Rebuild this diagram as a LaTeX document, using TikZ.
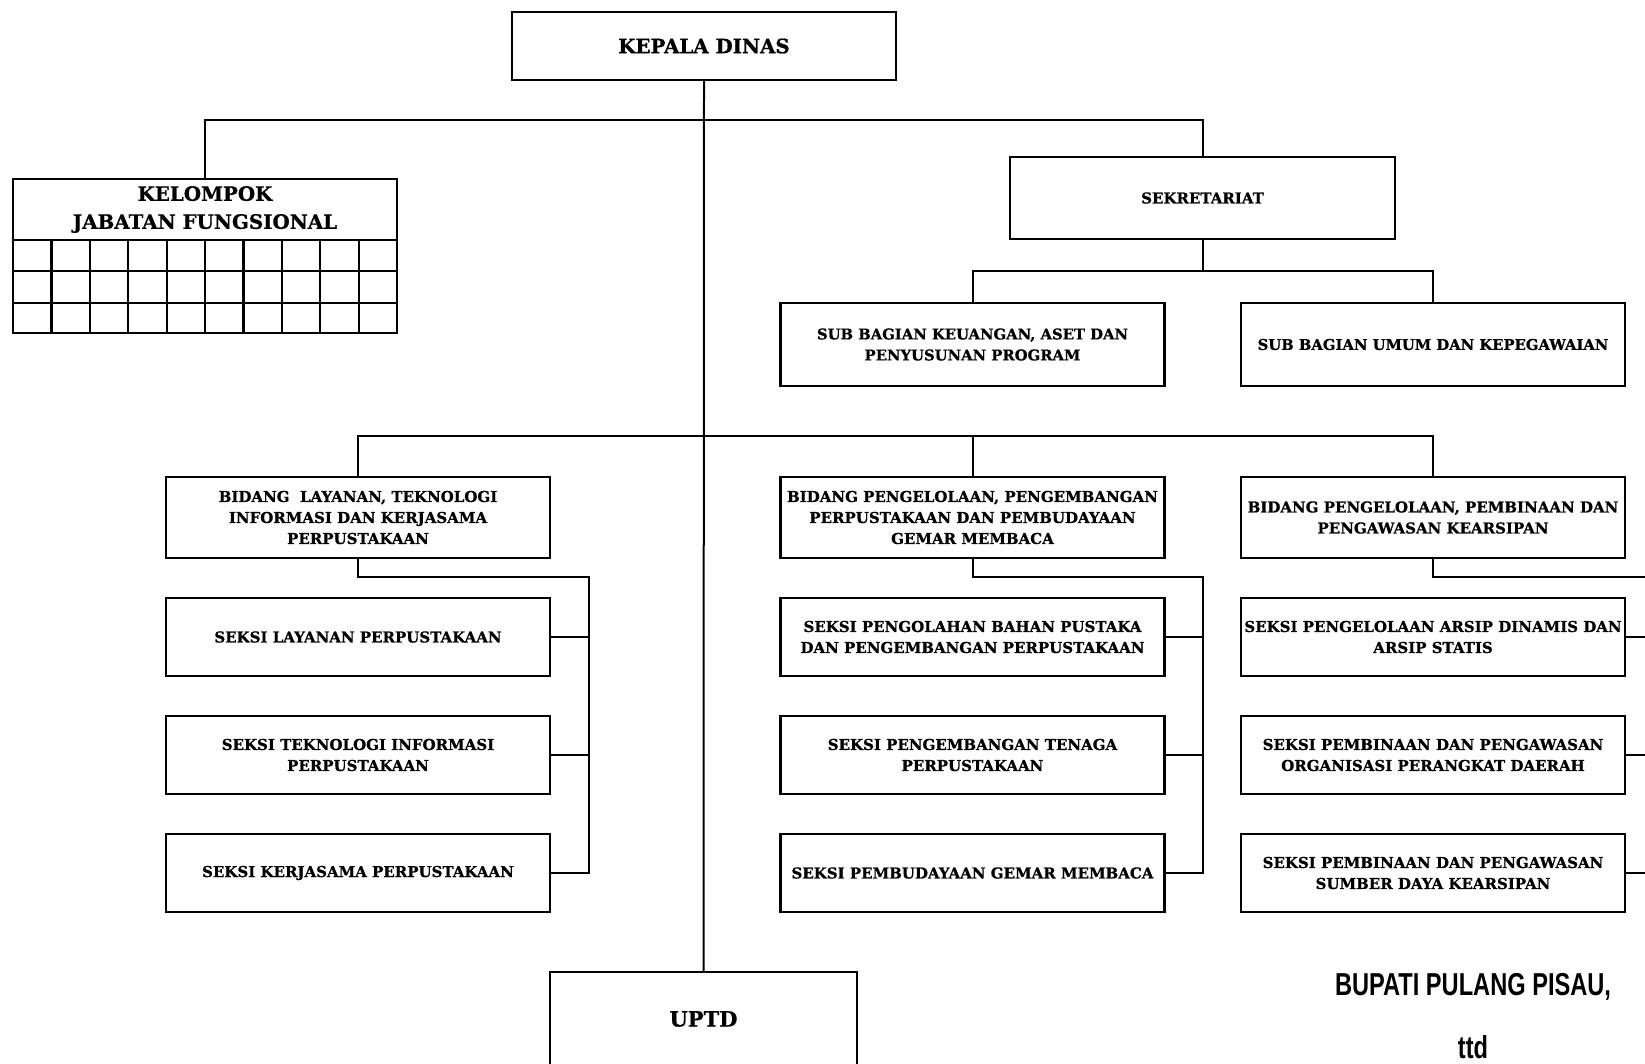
\documentclass[tikz,border=0pt]{standalone}
\usepackage{fontspec}
\setmainfont{DejaVu Serif}[BoldFeatures={FakeBold=0.8}]
\newfontfamily\sigfont[FakeStretch=0.745]{Liberation Sans}
\begin{document}
\begin{tikzpicture}[x=1pt,y=-1pt,
  box/.style={draw, line width=2.2pt, align=center, inner sep=2pt,
    font=\bfseries\fontsize{15}{21}\selectfont},
  wide/.style={minimum width=384pt},
  seksi/.style={box, wide, minimum height=78pt},
  bidang/.style={box, wide, minimum height=81pt},
  big/.style={font=\bfseries\fontsize{19.8}{28}\selectfont},
  ln/.style={line width=2pt},
  sig/.style={font=\sigfont\bfseries\fontsize{31.7}{36}\selectfont, inner sep=0pt, anchor=base}]
\clip (0,0) rectangle (1645,1063);
\fill[white] (0,0) rectangle (1645,1063);

% top
\node[box, wide, big, minimum height=68pt] (kd) at (704,46) {KEPALA DINAS};
\node[box, wide, big, minimum height=61pt] (kjf) at (205,209.5) {KELOMPOK\\JABATAN FUNGSIONAL};
\draw[line width=2.2pt] (13,240) rectangle (397,333);
\draw[line width=2.2pt] (13,271) -- (397,271) (13,303) -- (397,303);
\foreach \i in {1,...,9} \draw[line width=2.2pt] ({13+38.4*\i},240) -- ({13+38.4*\i},333);

\node[box, minimum width=385pt, minimum height=82pt, font=\bfseries\fontsize{15}{18}\selectfont] (sek) at (1202.5,198) {SEKRETARIAT};
\node[box, wide, minimum height=83pt, font=\bfseries\fontsize{14.8}{21}\selectfont] (sbk) at (972.5,344.5) {SUB BAGIAN KEUANGAN, ASET DAN\\PENYUSUNAN PROGRAM};
\node[box, wide, minimum height=83pt, font=\bfseries\fontsize{14.8}{21}\selectfont] (sbu) at (1433,344.5) {SUB BAGIAN UMUM DAN KEPEGAWAIAN};

% bidang
\node[bidang] (b1) at (358,517.5) {BIDANG\ \ LAYANAN, TEKNOLOGI\\INFORMASI DAN KERJASAMA\\PERPUSTAKAAN};
\node[bidang] (b2) at (972.5,517.5) {BIDANG PENGELOLAAN, PENGEMBANGAN\\PERPUSTAKAAN DAN PEMBUDAYAAN\\GEMAR MEMBACA};
\node[bidang] (b3) at (1433,517.5) {BIDANG PENGELOLAAN, PEMBINAAN DAN\\PENGAWASAN KEARSIPAN};

% seksi
\node[seksi] (s11) at (358,637) {SEKSI LAYANAN PERPUSTAKAAN};
\node[seksi] (s12) at (358,755) {SEKSI TEKNOLOGI INFORMASI\\PERPUSTAKAAN};
\node[seksi] (s13) at (358,873) {SEKSI KERJASAMA PERPUSTAKAAN};
\node[seksi] (s21) at (972.5,637) {SEKSI PENGOLAHAN BAHAN PUSTAKA\\DAN PENGEMBANGAN PERPUSTAKAAN};
\node[seksi] (s22) at (972.5,755) {SEKSI PENGEMBANGAN TENAGA\\PERPUSTAKAAN};
\node[seksi] (s23) at (972.5,873) {SEKSI PEMBUDAYAAN GEMAR MEMBACA};
\node[seksi] (s31) at (1433,637) {SEKSI PENGELOLAAN ARSIP DINAMIS DAN\\ARSIP STATIS};
\node[seksi] (s32) at (1433,755) {SEKSI PEMBINAAN DAN PENGAWASAN\\ORGANISASI PERANGKAT DAERAH};
\node[seksi] (s33) at (1433,873) {SEKSI PEMBINAAN DAN PENGAWASAN\\SUMBER DAYA KEARSIPAN};

% uptd
\node[box, minimum width=307pt, minimum height=94pt, font=\bfseries\fontsize{21}{26}\selectfont] (uptd) at (703.5,1019) {UPTD};

% signature
\node[sig] (bup) at (1473,995) {BUPATI PULANG PISAU,};
\node[sig] (ttd) at (1473,1058) {ttd};

% connectors
\coordinate (j1) at (704,120);
\coordinate (j2) at (1202.5,271);
\coordinate (j3) at (704,436);
\coordinate (bus1) at (589,577);
\coordinate (bus2) at (1203,577);
\coordinate (bus3) at (1665,577);
\draw[ln] (kd.south) -- (uptd.north);
\draw[ln] (kjf.north) -- (kjf.north |- j1) -- (sek.north |- j1) -- (sek.north);
\draw[ln] (sek.south) -- (j2);
\draw[ln] (sbk.north) -- (sbk.north |- j2) -- (sbu.north |- j2) -- (sbu.north);
\draw[ln] (b1.north) -- (b1.north |- j3) -- (b3.north |- j3) -- (b3.north);
\draw[ln] (b2.north) -- (b2.north |- j3);
\draw[ln] (b1.south) -- (b1.south |- bus1) -- (bus1) -- (bus1 |- s13.east) -- (s13.east);
\draw[ln] (s11.east) -- (s11.east -| bus1) (s12.east) -- (s12.east -| bus1);
\draw[ln] (b2.south) -- (b2.south |- bus2) -- (bus2) -- (bus2 |- s23.east) -- (s23.east);
\draw[ln] (s21.east) -- (s21.east -| bus2) (s22.east) -- (s22.east -| bus2);
\draw[ln] (b3.south) -- (b3.south |- bus3) -- (bus3) -- (bus3 |- s33.east) -- (s33.east);
\draw[ln] (s31.east) -- (s31.east -| bus3) (s32.east) -- (s32.east -| bus3);
\end{tikzpicture}
\end{document}
